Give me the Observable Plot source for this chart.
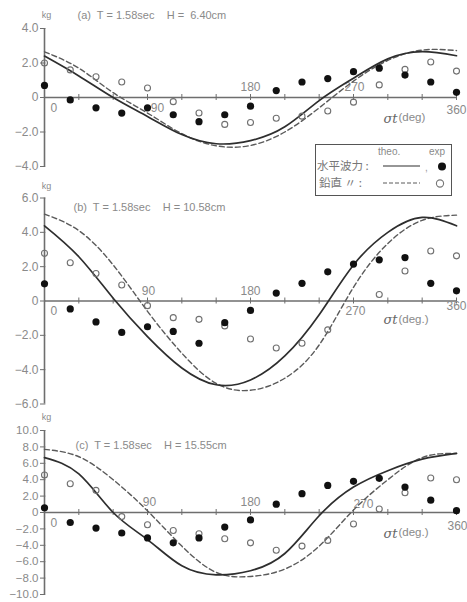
<!DOCTYPE html>
<html>
<head>
<meta charset="utf-8">
<script src="https://cdn.jsdelivr.net/npm/d3@7"></script>
<script src="https://cdn.jsdelivr.net/npm/@observablehq/plot@0.6"></script>
<style>
  html, body { margin: 0; padding: 0; background: #fff; }
  #wrap { position: relative; width: 467px; height: 602px; overflow: hidden; font-family: "Liberation Sans", Arial, sans-serif; }
  .panel { position: absolute; left: 0; }
  #legend { position: absolute; left: 315px; top: 144px; width: 137px; height: 52px; box-sizing: border-box;
            border: 1.5px solid #555; background: #fff; }
</style>
</head>
<body>
<div id="wrap"></div>
<script>
// ---------------- data ----------------
const expAngles = [0, 22.5, 45, 67.5, 90, 112.5, 135, 157.5, 180, 202.5, 225, 247.5, 270, 292.5, 315, 337.5, 360];
const theoAngles = [0, 30, 60, 90, 120, 150, 180, 210, 240, 270, 300, 330, 360];
const xMinorTicks = [0, 30, 60, 90, 120, 150, 180, 210, 240, 270, 300, 330, 360];
const xLabelTicks = [0, 90, 180, 270, 360];

// (a) H = 6.40cm
const aTitle = "(a)  T = 1.58sec    H =  6.40cm";
const aYTicks = [-4, -2, 0, 2, 4];
const aHorizExp = [0.7, -0.14, -0.6, -0.9, -0.6, -1.0, -1.4, -1.0, -0.5, 0.4, 0.9, 1.1, 1.5, 1.7, 1.3, 0.9, 0.3];
const aVertExp  = [2.0, 1.6, 1.2, 0.9, 0.55, -0.24, -0.9, -1.56, -1.45, -1.2, -1.08, -0.78, -0.27, 0.73, 1.63, 2.06, 1.53];
const aHorizTheo = [2.4, 1.25, 0.0, -1.1, -2.15, -2.68, -2.5, -1.7, -0.18, 1.12, 2.24, 2.66, 2.42];
const aVertTheo  = [2.65, 1.7, 0.28, -0.9, -2.1, -2.8, -2.78, -2.0, -0.6, 0.95, 2.15, 2.75, 2.72];

// (b) H = 10.58cm
const bTitle = "(b)  T = 1.58sec    H = 10.58cm";
const bYTicks = [-6, -4, -2, 0, 2, 4, 6];
const bHorizExp = [1.0, -0.46, -1.22, -1.83, -1.5, -1.77, -2.46, -1.26, -0.55, 0.46, 1.03, 1.7, 2.15, 2.4, 2.53, 1.03, 0.59];
const bVertExp  = [2.78, 2.23, 1.6, 0.93, -0.27, -0.97, -1.07, -1.45, -2.21, -2.74, -2.46, -1.68, null, 0.38, 1.75, 2.91, 2.63];
const bHorizTheo = [4.38, 2.58, 0.16, -2.07, -3.9, -4.88, -4.6, -3.2, -0.8, 2.1, 4.0, 4.87, 4.38];
const bVertTheo  = [5.06, 4.1, 2.1, -0.6, -3.04, -4.8, -5.2, -4.5, -2.56, 0.8, 3.35, 4.7, 5.0];

// (c) H = 15.55cm
const cTitle = "(c)  T = 1.58sec    H = 15.55cm";
const cYTicks = [-10, -8, -6, -4, -2, 0, 2, 4, 6, 8, 10];
const cHorizExp = [0.58, -1.22, -1.9, -2.5, -3.1, -3.7, -3.1, -1.78, -0.9, 1.02, 2.3, 3.3, 3.8, 4.17, 3.1, 1.5, 0.22];
const cVertExp  = [4.57, 3.5, 2.7, -0.5, -1.5, -2.2, -2.6, -3.2, -3.7, -4.6, -4.1, -3.4, -1.4, 0.42, 2.4, 4.2, 4.0];
const cHorizTheo = [6.7, 4.7, 0.0, -3.3, -6.5, -7.6, -7.1, -5.0, -0.4, 3.1, 5.1, 6.5, 7.2];
const cVertTheo  = [7.7, 6.8, 4.0, 0.2, -4.1, -7.3, -7.8, -6.9, -4.1, 0.3, 4.0, 6.7, 7.2];

const legendTheo = "theo.";
const legendExp = "exp";
const legendHoriz = "水平波力";
const legendVert = "鉛直 〃";

// ---------------- style ----------------
const textCol = "#8a8a8a";
const axisCol = "#6e6e6e";
const solidCol = "#2e2e2e";
const dashCol = "#5a5a5a";
const font = "'Liberation Sans', Arial, sans-serif";

const fmtY = d => d === 0 ? "0" : (d < 0 ? "−" : "") + Math.abs(d).toFixed(1);

const panels = [
  { title: aTitle, yTicks: aYTicks, yDomain: [-4, 4], hExp: aHorizExp, vExp: aVertExp, hTheo: aHorizTheo, vTheo: aVertTheo,
    top: 0, height: 180, marginTop: 28, marginBottom: 14, titleDx: 33, titleDy: -13, kgDy: -13,
    sigma: "(deg)", sigmaDy: 21, tickFont: 12,
    labelPos: { 0: [6, 11, "start"], 90: [10, 11, "middle"], 180: [0, -10, "middle"], 270: [1, -10, "middle"], 360: [0, 13, "middle"] } },
  { title: bTitle, yTicks: bYTicks, yDomain: [-6, 6], hExp: bHorizExp, vExp: bVertExp, hTheo: bHorizTheo, vTheo: bVertTheo,
    top: 182, height: 236, marginTop: 15.5, marginBottom: 14.5, titleDx: 29, titleDy: 9.5, kgDy: -12,
    sigma: "(deg.)", sigmaDy: 19, tickFont: 12,
    labelPos: { 0: [6, 10, "start"], 90: [1, -10, "middle"], 180: [0, -10, "middle"], 270: [2, 10, "middle"], 360: [10, 5, "end"] } },
  { title: cTitle, yTicks: cYTicks, yDomain: [-10, 10], hExp: cHorizExp, vExp: cVertExp, hTheo: cHorizTheo, vTheo: cVertTheo,
    top: 406, height: 196, marginTop: 24, marginBottom: 8, titleDx: 31, titleDy: 15, kgDy: -13,
    sigma: "(deg.)", sigmaDy: 21, tickFont: 11.5,
    labelPos: { 0: [6, 11, "start"], 90: [2, -10, "middle"], 180: [0, -10, "middle"], 270: [10, -8, "middle"], 360: [1, 14, "middle"] } }
];

const wrap = document.getElementById("wrap");

for (const cfg of panels) {
  const [ymin, ymax] = cfg.yDomain;
  const innerH = cfg.height - cfg.marginTop - cfg.marginBottom;
  const tickHalf = 3 * (ymax - ymin) / innerH;
  const exp = expAngles.map((a, i) => ({ a, h: cfg.hExp[i], v: cfg.vExp[i] }));
  const theo = theoAngles.map((a, i) => ({ a, h: cfg.hTheo[i], v: cfg.vTheo[i] }));

  const labelMarks = xLabelTicks.map(v => {
    const [dx, dy, anchor] = cfg.labelPos[v];
    return Plot.text([v], { x: d => d, y: 0, text: d => String(d), dx, dy,
      textAnchor: anchor, fontSize: 12, fill: textCol });
  });

  const chart = Plot.plot({
    width: 467, height: cfg.height,
    marginLeft: 44, marginRight: 11, marginTop: cfg.marginTop, marginBottom: cfg.marginBottom,
    x: { domain: [0, 360], axis: null },
    y: { domain: cfg.yDomain, axis: null },
    style: { background: "transparent", color: textCol, fontFamily: font, fontSize: "11px" },
    marks: [
      Plot.ruleY([0], { stroke: axisCol, strokeWidth: 1.4 }),
      Plot.ruleX([0], { y1: ymin, y2: ymax, stroke: axisCol, strokeWidth: 1.6 }),
      Plot.ruleX(xMinorTicks, { x: d => d, y1: -tickHalf, y2: tickHalf, stroke: axisCol, strokeWidth: 1 }),
      Plot.axisY({ ticks: cfg.yTicks, tickFormat: fmtY, tickSize: 4, tickPadding: 2, fontSize: cfg.tickFont,
                   stroke: axisCol, fill: textCol, label: null }),
      Plot.ruleY(cfg.yTicks, { x1: 0, x2: 1.2, stroke: axisCol }),
      ...labelMarks,
      Plot.text(["σt"], { x: 360, y: 0, dx: -73, dy: cfg.sigmaDy, textAnchor: "start", fontSize: 13,
                          fontStyle: "italic", fontFamily: "'DejaVu Serif', serif", fill: "#666" }),
      Plot.text([cfg.sigma], { x: 360, y: 0, dx: -58, dy: cfg.sigmaDy - 1, textAnchor: "start", fontSize: 11.5, fill: textCol }),
      Plot.text([cfg.title], { frameAnchor: "top-left", dx: cfg.titleDx, dy: cfg.titleDy, textAnchor: "start",
                               lineAnchor: "middle", fontSize: 11, fill: textCol }),
      Plot.text(["kg"], { frameAnchor: "top-left", dx: 2, dy: cfg.kgDy, textAnchor: "middle",
                          lineAnchor: "middle", fontSize: 9, fill: textCol }),
      Plot.line(theo, { x: "a", y: "v", curve: "natural", stroke: dashCol, strokeWidth: 1.4, strokeDasharray: "5,3" }),
      Plot.line(theo, { x: "a", y: "h", curve: "natural", stroke: solidCol, strokeWidth: 1.7 }),
      Plot.dot(exp.filter(d => d.v != null), { x: "a", y: "v", r: 3, stroke: "#707070", strokeWidth: 1.1, fill: "none" }),
      Plot.dot(exp.filter(d => d.h != null), { x: "a", y: "h", r: 3.6, fill: "#111", stroke: "none" })
    ]
  });
  const div = document.createElement("div");
  div.className = "panel";
  div.style.top = cfg.top + "px";
  div.appendChild(chart);
  wrap.appendChild(div);
}

// ---------------- legend ----------------
const leg = document.createElement("div");
leg.id = "legend";
const svg = d3.create("svg").attr("width", 134).attr("height", 49)
  .style("position", "absolute").style("left", "0px").style("top", "0px");
svg.append("text").attr("x", 62).attr("y", 10).attr("font-size", 10).attr("fill", textCol)
  .attr("font-family", font).text(legendTheo);
svg.append("text").attr("x", 113).attr("y", 10).attr("font-size", 10).attr("fill", textCol)
  .attr("font-family", font).text(legendExp);
const cjk = "'Noto Sans CJK JP', 'Noto Sans CJK SC', sans-serif";
svg.append("text").attr("x", 1).attr("y", 25).attr("font-size", 11.5).attr("fill", "#777")
  .attr("font-family", cjk).text(legendHoriz + " :");
svg.append("line").attr("x1", 67).attr("x2", 104).attr("y1", 21).attr("y2", 21)
  .attr("stroke", solidCol).attr("stroke-width", 1.2);
svg.append("text").attr("x", 109).attr("y", 26).attr("font-size", 10).attr("fill", "#999").text(",");
svg.append("circle").attr("cx", 126).attr("cy", 21.5).attr("r", 4).attr("fill", "#111");
svg.append("text").attr("x", 3).attr("y", 42).attr("font-size", 11.5).attr("fill", "#777")
  .attr("font-family", cjk).text(legendVert + "   :");
svg.append("line").attr("x1", 67).attr("x2", 104).attr("y1", 38).attr("y2", 38)
  .attr("stroke", dashCol).attr("stroke-width", 1).attr("stroke-dasharray", "4,2");
svg.append("circle").attr("cx", 124).attr("cy", 38.5).attr("r", 3.6).attr("fill", "none")
  .attr("stroke", "#777").attr("stroke-width", 1.1);
leg.appendChild(svg.node());
wrap.appendChild(leg);
</script>
</body>
</html>
